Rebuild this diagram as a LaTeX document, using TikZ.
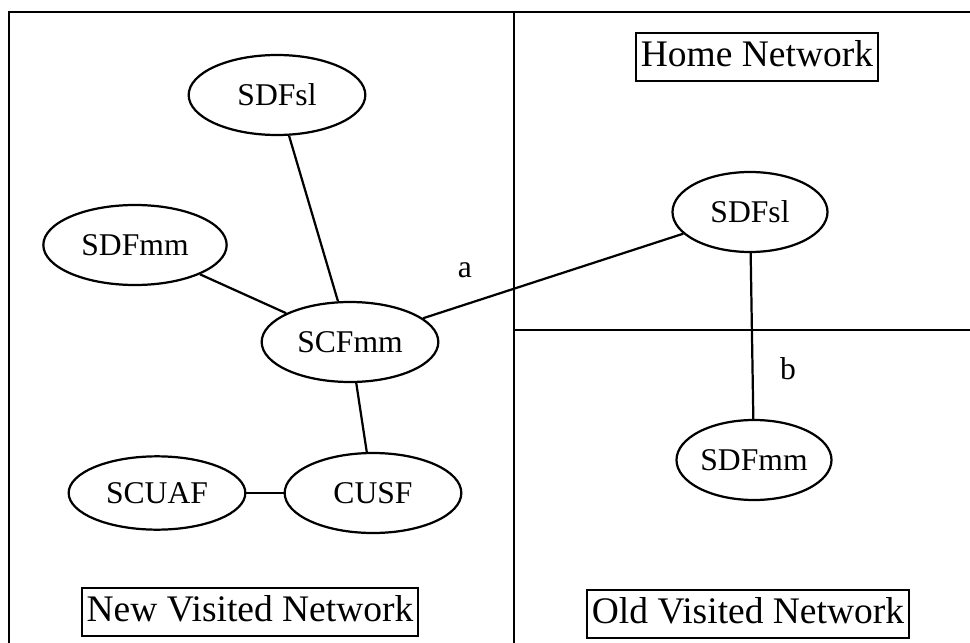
\documentclass[tikz,border=0pt]{standalone}
\usepackage{fontspec}
\setmainfont{Liberation Serif}
\usetikzlibrary{shapes.geometric}

\begin{document}
\begin{tikzpicture}[x=0.03cm, y=-0.03cm, line width=1.9pt,
    every node/.style={font=\fontsize{27pt}{32pt}\selectfont},
    fn/.style={ellipse, draw, inner sep=0pt, minimum width=5.3cm, minimum height=2.4cm},
    fnsmall/.style={fn, minimum width=4.65cm},
    netlabel/.style={draw, rectangle, font=\fontsize{32pt}{38pt}\selectfont,
        inner xsep=0.15cm, inner ysep=0.2cm, text height=0.8cm, text depth=0.25cm}]
    \useasboundingbox (0,0) rectangle (970,643);

    % frame
    \draw (9,643) -- (9,12) -- (970,12);
    \draw (514,12) -- (514,643);
    \draw (514,330) -- (970,330);

    % new visited network
    \node[fn] (sdfsl) at (277,95) {SDFsl};
    \node[fn, minimum width=5.5cm] (sdfmm) at (135,245) {SDFmm};
    \node[fn] (scfmm) at (350,342) {SCFmm};
    \node[fn, minimum height=2.2cm] (scuaf) at (157,493) {SCUAF};
    \node[fn] (cusf) at (373,493) {CUSF};

    % home and old visited network
    \node[fnsmall] (hsdfsl) at (750,212) {SDFsl};
    \node[fnsmall] (osdfmm) at (754,460) {SDFmm};

    \node[netlabel] (home) at (757,57) {Home Network};
    \node[netlabel] (newv) at (250,612) {New Visited Network};
    \node[netlabel] (oldv) at (748,614) {Old Visited Network};
    \node (a) at (465,270) {a};
    \node (b) at (788,369) {b};

    \draw (sdfsl) -- (scfmm);
    \draw (sdfmm) -- (scfmm);
    \draw (scfmm) -- (cusf);
    \draw (scuaf) -- (cusf);
    \draw (scfmm) -- (hsdfsl);
    \draw (hsdfsl) -- (osdfmm);
\end{tikzpicture}
\end{document}
